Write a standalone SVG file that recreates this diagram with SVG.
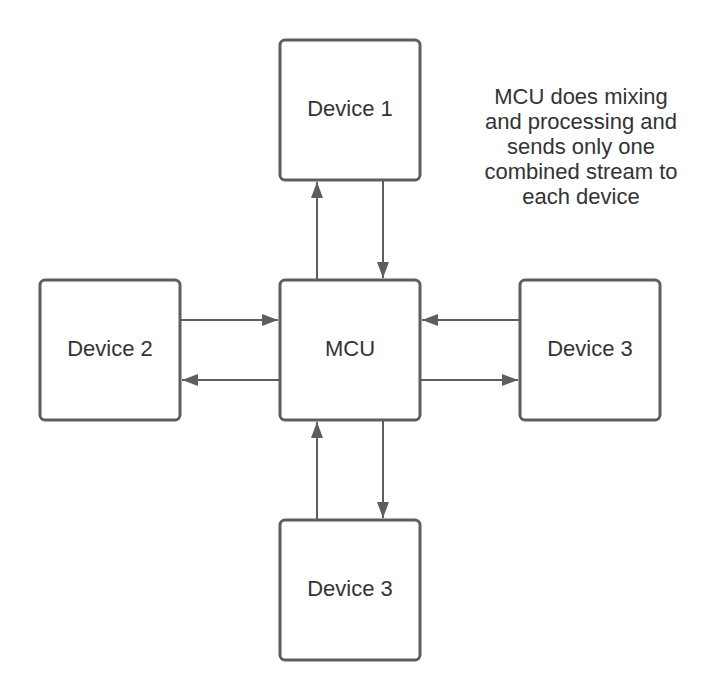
<svg xmlns="http://www.w3.org/2000/svg" width="722" height="700" viewBox="0 0 722 700">
<style>
.box{fill:#fff;stroke:#5e5e5e;stroke-width:3}
.lbl{font-family:"Liberation Sans",Arial,sans-serif;font-size:22px;fill:#333;text-anchor:middle;dominant-baseline:central}
.ln{stroke:#5e5e5e;stroke-width:2;fill:none;marker-end:url(#ah)}
</style>
<defs>
<marker id="ah" markerWidth="16" markerHeight="12" refX="16" refY="6" orient="auto" markerUnits="userSpaceOnUse">
<path d="M0,0 L16,6 L0,12 Z" fill="#5e5e5e"/>
</marker>
</defs>
<rect width="722" height="700" fill="#fff"/>
<g id="connectors">
<line class="ln" x1="317" y1="280" x2="317" y2="182"/>
<line class="ln" x1="383" y1="180" x2="383" y2="278"/>
<line class="ln" x1="180" y1="320" x2="278" y2="320"/>
<line class="ln" x1="280" y1="380" x2="182" y2="380"/>
<line class="ln" x1="520" y1="320" x2="422" y2="320"/>
<line class="ln" x1="420" y1="380" x2="518" y2="380"/>
<line class="ln" x1="317" y1="520" x2="317" y2="422"/>
<line class="ln" x1="383" y1="420" x2="383" y2="518"/>
</g>
<g id="device1"><rect class="box" x="280" y="40" width="140" height="140" rx="5"/><text class="lbl" x="350" y="108">Device 1</text></g>
<g id="device2"><rect class="box" x="40" y="280" width="140" height="140" rx="5"/><text class="lbl" x="110" y="348">Device 2</text></g>
<g id="mcu"><rect class="box" x="280" y="280" width="140" height="140" rx="5"/><text class="lbl" x="350" y="348">MCU</text></g>
<g id="device3right"><rect class="box" x="520" y="280" width="140" height="140" rx="5"/><text class="lbl" x="590" y="348">Device 3</text></g>
<g id="device3bottom"><rect class="box" x="280" y="520" width="140" height="140" rx="5"/><text class="lbl" x="350" y="588">Device 3</text></g>
<g id="note">
<text class="lbl" x="581" y="96">MCU does mixing</text>
<text class="lbl" x="581" y="121">and processing and</text>
<text class="lbl" x="581" y="146">sends only one</text>
<text class="lbl" x="581" y="171">combined stream to</text>
<text class="lbl" x="581" y="196">each device</text>
</g>
</svg>
